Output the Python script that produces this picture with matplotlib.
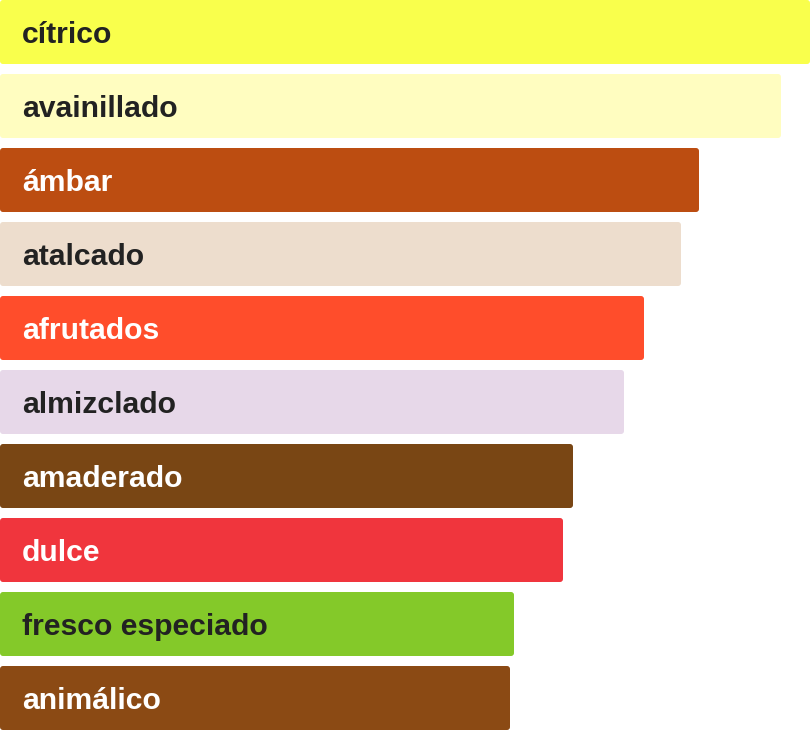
import matplotlib.pyplot as plt
from matplotlib.patches import FancyBboxPatch

# aromas y su valor (longitud de la barra)
aromas = ['cítrico', 'avainillado', 'ámbar', 'atalcado', 'afrutados',
          'almizclado', 'amaderado', 'dulce', 'fresco especiado', 'animálico']
valores = [810, 781, 699, 681, 644, 624, 573, 563, 514, 510]
colores = ['#F9FF4C', '#FFFDC0', '#BC4D11', '#EDDDCD', '#FF4D2B',
           '#E7D8E9', '#794614', '#F0353D', '#84C929', '#8B4A14']
color_texto = ['#222222', '#222222', '#FFFFFF', '#222222', '#FFFFFF',
               '#222222', '#FFFFFF', '#FFFFFF', '#222222', '#FFFFFF']

alto = 64 / 74  # alto de barra respecto al paso

fig = plt.figure(figsize=(8.1, 7.3), dpi=100)
ax = fig.add_axes([0, 0, 1, 1])

pos = list(range(len(aromas)))
barras = ax.barh(pos, valores, height=alto, color=colores)

# esquinas recortadas: se sustituye cada barra por una caja redondeada
for b, c in zip(barras, colores):
    b.set_visible(False)
    caja = FancyBboxPatch((b.get_x(), b.get_y()), b.get_width(), b.get_height(),
                          boxstyle='round,pad=0,rounding_size=3',
                          mutation_aspect=1 / 74, facecolor=c, edgecolor='none')
    ax.add_patch(caja)

for i, (txt, tc) in enumerate(zip(aromas, color_texto)):
    ax.text(22, i, txt, color=tc, fontsize=21.7, fontweight='bold',
            family=['Liberation Sans', 'DejaVu Sans'], va='center_baseline', ha='left')

ax.set_xlim(0, 810)
ax.set_ylim(len(aromas) - 1 + alto / 2, -alto / 2)
ax.axis('off')

fig.savefig('out.png', dpi=100)
